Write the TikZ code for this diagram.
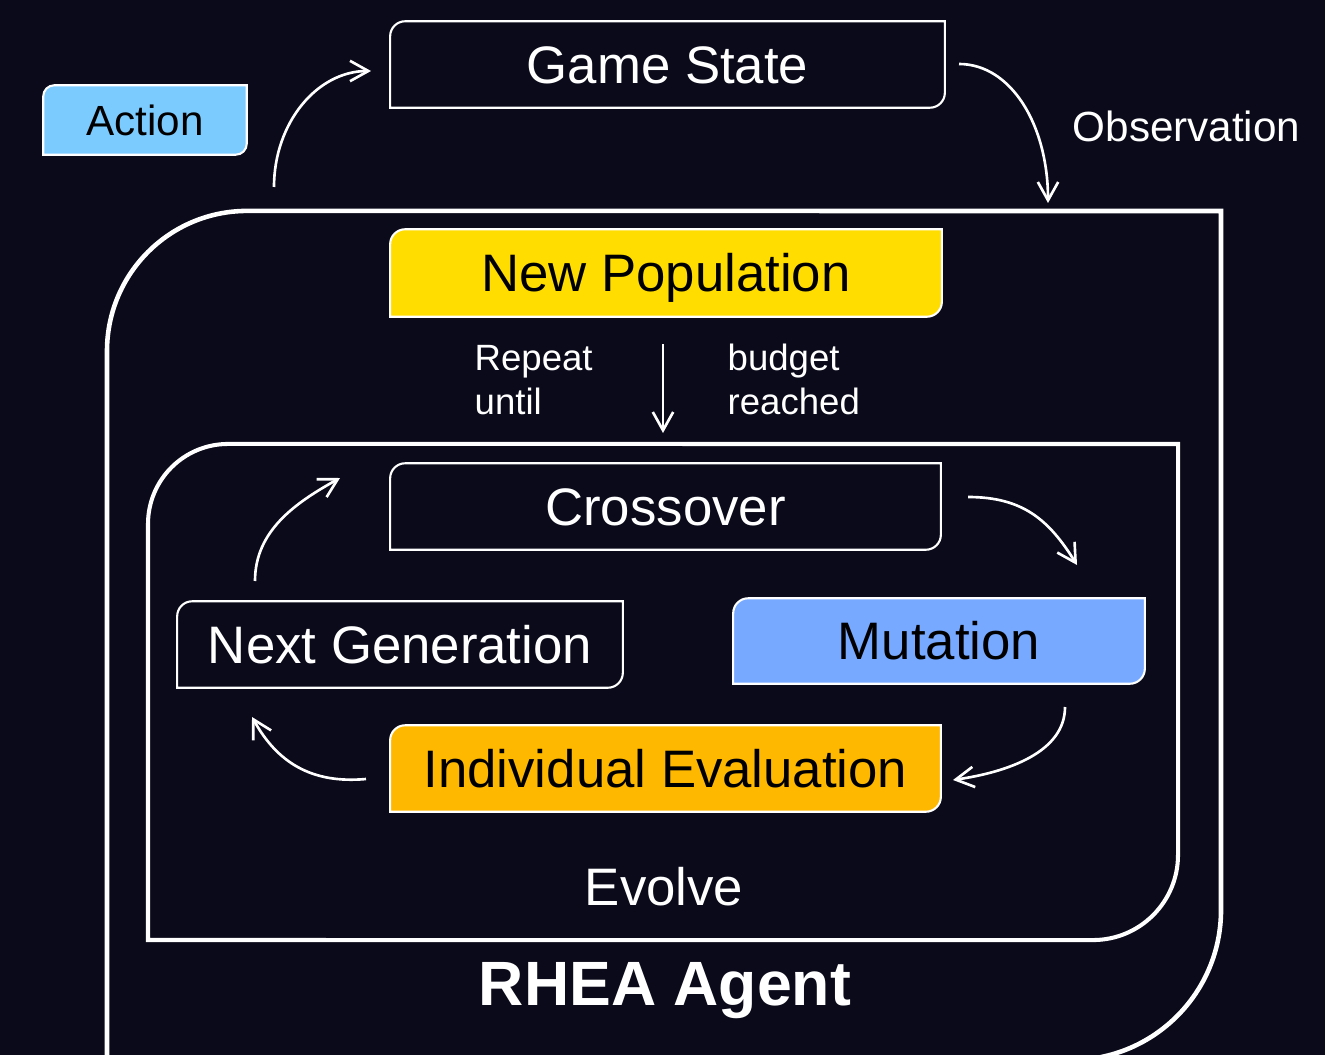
\documentclass[tikz,border=0pt]{standalone}
\usepackage{fontspec}
\setmainfont{Liberation Sans}
\usetikzlibrary{arrows.meta}
\definecolor{bgc}{RGB}{10,10,26}
\definecolor{actc}{RGB}{124,203,255}
\definecolor{npc}{RGB}{255,221,0}
\definecolor{muc}{RGB}{118,169,255}
\definecolor{iec}{RGB}{255,184,0}
\pgfdeclarelayer{bg}
\pgfdeclarelayer{boxes}
\pgfsetlayers{bg,boxes,main}
% box with rounded top-left and bottom-right corners around node #1
\newcommand\tlbrbox[3]{%
  \path[#3] ([yshift=-#2]#1.north west) arc[start angle=180,end angle=90,radius=#2]
    -- (#1.north east) -- ([yshift=#2]#1.south east)
    arc[start angle=0,end angle=-90,radius=#2] -- (#1.south west) -- cycle;}
\begin{document}
\begin{tikzpicture}[x=0.01cm,y=-0.01cm,
  lbl/.style={inner sep=0pt, text height=10.74pt, text depth=0pt, font=\fontsize{15pt}{18pt}\selectfont},
  lblsmall/.style={inner sep=0pt, text height=8.6pt, text depth=0pt, font=\fontsize{12pt}{14pt}\selectfont},
  note/.style={inner sep=0pt, text=white, font=\fontsize{10.4pt}{12pt}\selectfont},
  boxline/.style={draw=white, line width=0.6pt},
  conn/.style={draw=white, line width=0.75pt, -{Straight Barb[length=5.2pt,width=5.8pt]}},
  frame/.style={draw=white, line width=1.3pt}]
\begin{pgfonlayer}{bg}
  \fill[bgc] (0,0) rectangle (1325,1055);
\end{pgfonlayer}
\useasboundingbox (0,0) rectangle (1325,1055);

% nodes
\node[lblsmall, text=black, minimum width=2.02cm, minimum height=0.68cm] (act) at (145,120) {Action};
\node[lbl, text=white, minimum width=5.53cm, minimum height=0.85cm] (gs) at (667.5,64.5) {Game State};
\node[lbl, text=black, minimum width=5.50cm, minimum height=0.86cm] (np) at (666,273) {New Population};
\node[lbl, text=white, minimum width=5.49cm, minimum height=0.85cm] (co) at (665.5,506.5) {Crossover};
\node[lbl, text=black, minimum width=4.10cm, minimum height=0.84cm] (mu) at (939,641) {Mutation};
\node[lbl, text=white, minimum width=4.44cm, minimum height=0.85cm] (ng) at (400,644.5) {Next Generation};
\node[lbl, text=black, minimum width=5.49cm, minimum height=0.85cm] (ie) at (665.5,768.5) {Individual Evaluation};

\node[lblsmall, text=white, anchor=base west] (obs) at (1072,142) {Observation};
\node[note, anchor=base west] (rep) at (474,370) {Repeat};
\node[note, anchor=base west] (unt) at (474,414) {until};
\node[note, anchor=base west] (bud) at (727,370) {budget};
\node[note, anchor=base west] (rea) at (727,414) {reached};
\node[inner sep=0pt, text=white, anchor=base, font=\fontsize{15pt}{18pt}\selectfont] (ev) at (664,905) {Evolve};
\node[inner sep=0pt, text=white, anchor=base, font=\fontsize{17.8pt}{20pt}\selectfont\bfseries] (rhea) at (665,1005) {RHEA Agent};

% box outlines
\begin{pgfonlayer}{boxes}
  \tlbrbox{act}{0.11cm}{fill=actc, boxline}
  \tlbrbox{gs}{0.15cm}{fill=bgc, boxline}
  \tlbrbox{np}{0.15cm}{fill=npc, boxline}
  \tlbrbox{co}{0.15cm}{fill=bgc, boxline}
  \tlbrbox{mu}{0.15cm}{fill=muc, boxline}
  \tlbrbox{ng}{0.15cm}{fill=bgc, boxline}
  \tlbrbox{ie}{0.15cm}{fill=iec, boxline}
  % outer agent frame
  \draw[frame] (107,1060) -- (107,351) arc[start angle=180,end angle=90,radius=1.4cm]
    -- (1221,211) -- (1221,910) arc[start angle=0,end angle=-90,radius=1.5cm] -- cycle;
  % inner evolve frame
  \draw[frame, line width=1.15pt] (148,940) -- (148,524) arc[start angle=180,end angle=90,radius=0.8cm]
    -- (1178,444) -- (1178,855) arc[start angle=0,end angle=-90,radius=0.85cm] -- cycle;
\end{pgfonlayer}

% connector end points
\coordinate (c1s) at (274,187);  \coordinate (c1e) at (371,71);
\coordinate (c2s) at (959,64);   \coordinate (c2e) at (1048,203);
\coordinate (c3s) at (663,344);  \coordinate (c3e) at (663,433);
\coordinate (c4s) at (968,497);  \coordinate (c4e) at (1077,565);
\coordinate (c5s) at (1065,707); \coordinate (c5e) at (953,780);
\coordinate (c6s) at (366,779);  \coordinate (c6e) at (252,717);
\coordinate (c7s) at (255,581);  \coordinate (c7e) at (340,478);

\draw[conn] (c1s) .. controls +(0,-64) and +(-54,0) .. (c1e);
\draw[conn] (c2s) .. controls +(52,0) and +(0,-78) .. (c2e);
\draw[conn] (c3s) -- (c3e);
\draw[conn] (c4s) .. controls +(55,0) and +(-28,-45) .. (c4e);
\draw[conn] (c5s) .. controls +(0,45) and +(55,-8) .. (c5e);
\draw[conn] (c6s) .. controls +(-55,5) and +(25,45) .. (c6e);
\draw[conn] (c7s) .. controls +(0,-50) and +(-45,25) .. (c7e);
\end{tikzpicture}
\end{document}
